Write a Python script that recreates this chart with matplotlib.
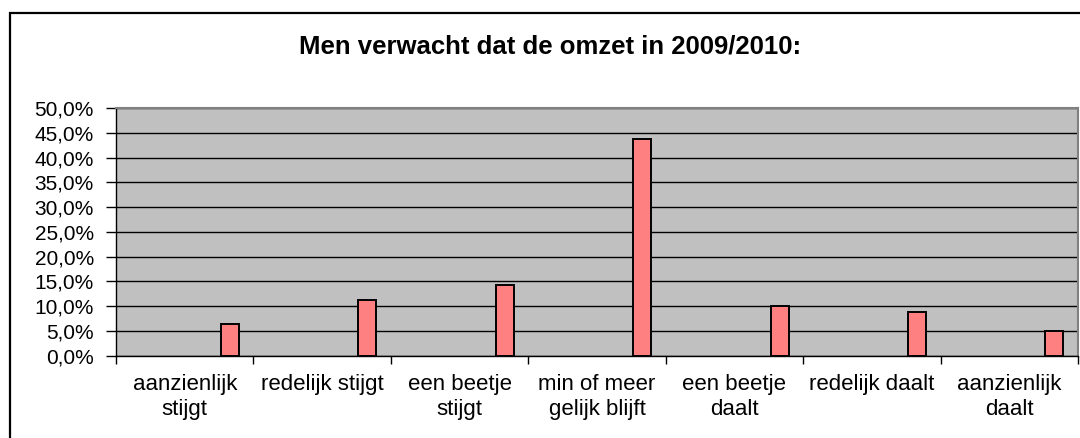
import matplotlib.pyplot as plt
import matplotlib.patches as patches
from matplotlib.ticker import FuncFormatter, MultipleLocator, FixedLocator

plt.rcParams['font.family'] = ['Liberation Sans', 'DejaVu Sans']

categories = ["aanzienlijk\nstijgt", "redelijk stijgt", "een beetje\nstijgt",
              "min of meer\ngelijk blijft", "een beetje\ndaalt", "redelijk daalt",
              "aanzienlijk\ndaalt"]
values = [6.3, 11.3, 14.2, 43.7, 10.0, 8.7, 4.9]
title = "Men verwacht dat de omzet in 2009/2010:"

W, H = 1080, 438
fig = plt.figure(figsize=(W / 100, H / 100), dpi=100)

# outer chart frame, running off the right and bottom edge
frame = patches.Rectangle((10 / W, -0.1), 1.2, 1 - 13 / H + 0.1, transform=fig.transFigure,
                          fill=False, edgecolor="black", linewidth=1.6, clip_on=False)
fig.patches.append(frame)

ax = fig.add_axes([116 / W, 1 - 355.5 / H, (1078 - 116) / W, (355.5 - 108.3) / H])
ax.set_facecolor("#C0C0C0")

x = range(len(values))
ax.bar([i + 0.328 for i in x], values, width=0.131, color="#FF8080",
       edgecolor="black", linewidth=1.4, zorder=3)

ax.set_xlim(-0.5, len(values) - 0.5)
ax.set_ylim(0, 50)
ax.yaxis.set_major_locator(MultipleLocator(5))
ax.yaxis.set_major_formatter(FuncFormatter(lambda v, p: f"{v:.1f}%".replace(".", ",")))
ax.grid(axis="y", color="black", linewidth=1.0, zorder=1)
ax.set_axisbelow(True)

ax.set_xticks(list(x))
ax.set_xticklabels(categories, fontsize=16, linespacing=1.3)
ax.xaxis.set_minor_locator(FixedLocator([i - 0.5 for i in range(len(values) + 1)]))
ax.tick_params(axis="x", which="major", length=0, pad=13)
ax.tick_params(axis="x", which="minor", length=6, width=1, color="black")
ax.tick_params(axis="y", length=7, width=1, pad=9, labelsize=15)

for s in ["top", "right"]:
    ax.spines[s].set_color("#808080")
    ax.spines[s].set_linewidth(1.5)
for s in ["left", "bottom"]:
    ax.spines[s].set_color("black")
    ax.spines[s].set_linewidth(1.0)

fig.text(550 / W, 1 - 47 / H, title, fontsize=18.5, fontweight="bold",
         ha="center", va="center")

fig.savefig("out.png", dpi=100)
